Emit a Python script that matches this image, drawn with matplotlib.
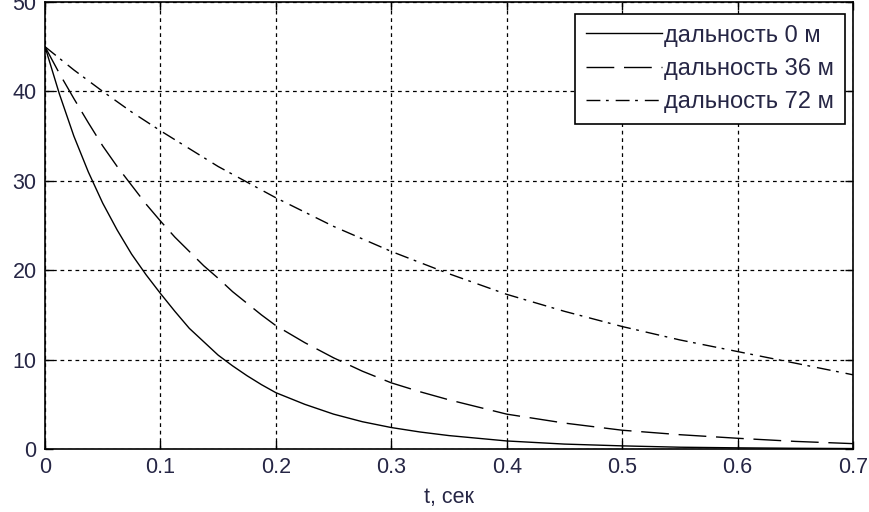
import numpy as np
import matplotlib
matplotlib.use("Agg")
from matplotlib import pyplot as plt

plt.rcParams['font.family'] = ['Liberation Sans', 'DejaVu Sans']

# время, сек
t = [0, 0.0125, 0.025, 0.0375, 0.05, 0.0625, 0.075, 0.0875, 0.1, 0.1125,
     0.125, 0.1375, 0.15, 0.1625, 0.175, 0.1875, 0.2, 0.225, 0.25, 0.275,
     0.3, 0.325, 0.35, 0.375, 0.4, 0.45, 0.5, 0.55, 0.6, 0.65, 0.7]
# дальность 0 м
y0 = [45, 39.7, 35.0, 31.0, 27.5, 24.5, 21.8, 19.5, 17.4, 15.4,
      13.5, 12.0, 10.5, 9.3, 8.2, 7.2, 6.3, 5.0, 3.9, 3.05,
      2.4, 1.9, 1.5, 1.2, 0.9, 0.55, 0.35, 0.2, 0.13, 0.08, 0.05]
# дальность 36 м
y36 = [45, 42.0, 39.2, 36.5, 33.9, 31.6, 29.5, 27.4, 25.5, 23.7,
       22.1, 20.5, 19.1, 17.6, 16.3, 15.0, 13.8, 11.9, 10.2, 8.7,
       7.4, 6.4, 5.5, 4.7, 3.9, 2.9, 2.1, 1.6, 1.2, 0.85, 0.6]
# дальность 72 м
t72 = [0, 0.025, 0.05, 0.075, 0.1, 0.15, 0.2, 0.25, 0.3, 0.35, 0.4, 0.45,
       0.5, 0.55, 0.6, 0.65, 0.7]
y72 = [45, 42.4, 40.0, 37.7, 35.6, 31.6, 28.1, 24.9, 22.1, 19.6, 17.3, 15.4,
       13.7, 12.2, 10.9, 9.6, 8.3]

labels = ['дальность 0 м', 'дальность 36 м', 'дальность 72 м']
xticks = [0, 0.1, 0.2, 0.3, 0.4, 0.5, 0.6, 0.7]
yticks = [0, 10, 20, 30, 40, 50]

tick_color = '#262645'

fig = plt.figure(figsize=(8.69, 5.12), dpi=100)
ax = fig.add_axes([45/869, 1-449/512, (853-45)/869, (449-2)/512])

ax.plot(t, y0, color='k', lw=1.0, label=labels[0])
ax.plot(t, y36, color='k', lw=1.0, dashes=(20, 7), label=labels[1])
ax.plot(t72, y72, color='k', lw=1.0, dashes=(10, 4, 2, 5), label=labels[2])

ax.set_xlim(0, 0.7)
ax.set_ylim(0, 50)
ax.set_xticks(xticks)
ax.set_xticklabels(['0', '0.1', '0.2', '0.3', '0.4', '0.5', '0.6', '0.7'])
ax.set_yticks(yticks)
ax.grid(True, color='k', lw=0.9, dashes=(3, 3))
ax.tick_params(direction='in', length=6, width=1, top=True, right=True,
               labelsize=15.5, labelcolor=tick_color, pad=6)
for s in ax.spines.values():
    s.set_linewidth(1.2)

ax.set_xlabel('t, сек', fontsize=15.5, color=tick_color, labelpad=6)

leg = ax.legend(loc='upper right', bbox_to_anchor=(845/869, 1-14/512),
                bbox_transform=fig.transFigure, fontsize=17, frameon=True,
                fancybox=False, framealpha=1, edgecolor='k',
                handlelength=3.2, handletextpad=0.12, borderaxespad=0,
                labelspacing=0.48, borderpad=0.45)
leg.get_frame().set_linewidth(1.2)
for txt in leg.get_texts():
    txt.set_color(tick_color)

fig.savefig('out.png', dpi=100)
